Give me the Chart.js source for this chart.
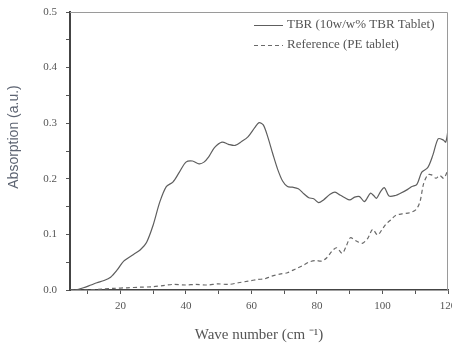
<!DOCTYPE html>
<html>
<head>
<meta charset="utf-8">
<script src="https://cdn.jsdelivr.net/npm/chart.js@4.4.1/dist/chart.umd.min.js"></script>
<style>
  html, body { margin: 0; padding: 0; background: #fff; }
  #chart { display: block; }
</style>
</head>
<body>
<canvas id="chart" width="452" height="347"></canvas>
<script>
// TBR tablet spectrum (wave number in cm-1, absorption in a.u.)
const tbrWave = [4.6, 6, 8.7, 11, 12.8, 15, 17, 19, 21, 24, 26, 28, 30, 32, 34, 36, 38, 40, 42, 44, 45.5, 47, 48.7, 51, 53, 55, 57, 59, 61, 62.3, 63.6, 65, 66.5, 68, 69.5, 71, 72.5, 74.3, 76, 77.5, 79, 80.5, 82, 84, 85.5, 87, 88.5, 90, 91.5, 93, 94.5, 96.3, 97.3, 98.2, 99.5, 100.6, 102, 104, 105.5, 107.7, 109, 110.5, 112, 113.8, 115.4, 117, 118.5, 119.3, 120];
const tbrAbs = [0.000, 0.000, 0.004, 0.009, 0.013, 0.017, 0.023, 0.036, 0.052, 0.064, 0.072, 0.086, 0.117, 0.158, 0.186, 0.194, 0.212, 0.230, 0.232, 0.227, 0.230, 0.240, 0.256, 0.266, 0.262, 0.260, 0.267, 0.276, 0.292, 0.301, 0.297, 0.275, 0.245, 0.217, 0.196, 0.186, 0.185, 0.182, 0.173, 0.166, 0.164, 0.157, 0.162, 0.172, 0.176, 0.171, 0.166, 0.162, 0.167, 0.168, 0.159, 0.174, 0.170, 0.165, 0.178, 0.184, 0.169, 0.170, 0.174, 0.181, 0.186, 0.190, 0.212, 0.220, 0.243, 0.272, 0.270, 0.266, 0.287];

// PE reference tablet
const peWave = [4.6, 10, 14.8, 18, 22, 26, 30, 33, 36, 40, 43, 46.7, 49.7, 53, 56, 59, 62, 64, 66.2, 69, 71, 73.5, 76, 77.5, 79.5, 81.5, 83, 84.6, 86, 87.7, 89, 90.2, 92, 93.8, 95.5, 97, 98.5, 100, 101, 102.5, 104, 106, 108.3, 110.3, 111.5, 112.5, 113.8, 115, 116.3, 117.5, 118.7, 120];
const peAbs = [0.000, 0.000, 0.002, 0.003, 0.004, 0.005, 0.006, 0.008, 0.010, 0.009, 0.010, 0.009, 0.011, 0.010, 0.013, 0.016, 0.019, 0.020, 0.025, 0.029, 0.031, 0.038, 0.045, 0.050, 0.053, 0.052, 0.058, 0.070, 0.076, 0.066, 0.080, 0.094, 0.088, 0.084, 0.093, 0.109, 0.099, 0.110, 0.118, 0.126, 0.134, 0.137, 0.139, 0.145, 0.160, 0.190, 0.207, 0.207, 0.201, 0.206, 0.201, 0.216];

const seriesLabels = ['TBR (10w/w% TBR Tablet)', 'Reference (PE tablet)'];
const yTitle = 'Absorption (a.u.)';

const xMin = 4.6, xMax = 120;
const yMin = 0, yMax = 0.5;

const toPoints = (xs, ys) => xs.map((x, i) => ({ x: x, y: ys[i] }));

const inkColor = '#5e5e5e';
const labelColor = '#555';
const serif = '"Liberation Serif", "Times New Roman", serif';

// legend inside the plot (top right), the light frame on top/right,
// and the y title, which sits a bit above the middle of the axis
const boxLegend = {
  id: 'boxLegend',
  afterDraw(chart) {
    const ctx = chart.ctx;
    const area = chart.chartArea;
    ctx.save();

    ctx.strokeStyle = '#9a9a9a';
    ctx.lineWidth = 1;
    ctx.beginPath();
    ctx.moveTo(area.left, area.top + 0.5);
    ctx.lineTo(area.right - 0.5, area.top + 0.5);
    ctx.lineTo(area.right - 0.5, area.bottom);
    ctx.stroke();

    ctx.font = '13px ' + serif;
    ctx.textBaseline = 'middle';
    chart.data.datasets.forEach(function(ds, i) {
      const y = area.top + 13 + i * 20;
      const x0 = area.right - 194;
      ctx.strokeStyle = ds.borderColor;
      ctx.lineWidth = 1;
      ctx.setLineDash(ds.borderDash || []);
      ctx.beginPath();
      ctx.moveTo(x0, y + 0.5);
      ctx.lineTo(x0 + 29, y + 0.5);
      ctx.stroke();
      ctx.setLineDash([]);
      ctx.fillStyle = labelColor;
      ctx.fillText(ds.label, x0 + 33, y);
    });

    ctx.translate(14, area.top + 125);
    ctx.rotate(-Math.PI / 2);
    ctx.textAlign = 'center';
    ctx.fillStyle = '#5d6472';
    ctx.font = '14px "Liberation Sans", Arial, sans-serif';
    ctx.fillText(yTitle, 0, 0);
    ctx.restore();
  }
};

new Chart(document.getElementById('chart'), {
  type: 'line',
  data: {
    datasets: [
      {
        label: seriesLabels[0],
        data: toPoints(tbrWave, tbrAbs),
        borderColor: inkColor,
        borderWidth: 1.2,
        pointRadius: 0,
        tension: 0.3,
        fill: false
      },
      {
        label: seriesLabels[1],
        data: toPoints(peWave, peAbs),
        borderColor: '#6a6a6a',
        borderWidth: 1.2,
        borderDash: [4, 3],
        pointRadius: 0,
        tension: 0.3,
        fill: false
      }
    ]
  },
  options: {
    responsive: false,
    animation: false,
    devicePixelRatio: 1,
    layout: { padding: { top: 12, right: 4, left: 0, bottom: 0 } },
    plugins: {
      legend: { display: false },
      tooltip: { enabled: false }
    },
    scales: {
      x: {
        type: 'linear',
        min: xMin,
        max: xMax,
        grid: { drawOnChartArea: false, drawTicks: true, tickLength: 4, tickColor: '#555' },
        border: { color: '#444', width: 1.5 },
        ticks: {
          stepSize: 10,
          includeBounds: false,
          autoSkip: false,
          maxRotation: 0,
          padding: 6,
          color: labelColor,
          font: { family: serif, size: 11 },
          callback: function(v) { return v % 20 === 0 ? String(v) : ''; }
        },
        title: {
          display: true,
          text: 'Wave number (cm \u207B\u00B9)',
          color: labelColor,
          font: { family: serif, size: 15 },
          padding: { top: 0, bottom: 3 }
        },
        afterFit: function(scale) {
          scale.height = 57;
          scale.paddingLeft = 0;
          scale.paddingRight = 0;
        }
      },
      y: {
        min: yMin,
        max: yMax,
        grid: { drawOnChartArea: false, drawTicks: true, tickLength: 4, tickColor: '#555' },
        border: { color: '#444', width: 2 },
        ticks: {
          stepSize: 0.05,
          autoSkip: false,
          padding: 9,
          color: labelColor,
          font: { family: serif, size: 11 },
          callback: function(v) {
            return Math.round(v * 100) % 10 === 0 ? v.toFixed(1) : '';
          }
        },
        afterFit: function(scale) {
          scale.width = 70;
          scale.paddingTop = 0;
          scale.paddingBottom = 0;
        }
      }
    }
  },
  plugins: [boxLegend]
});
</script>
</body>
</html>
